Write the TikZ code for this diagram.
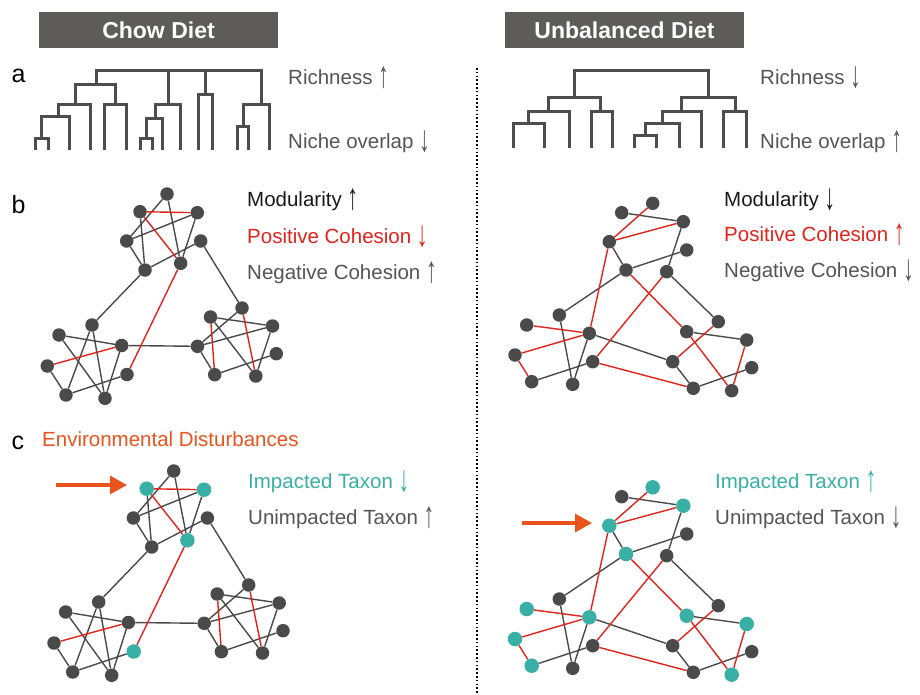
\documentclass[tikz,border=0pt]{standalone}
\usepackage{graphicx}
\usepackage{fontspec}
\setmainfont{Liberation Sans}
\usetikzlibrary{arrows.meta}
\definecolor{nodegray}{HTML}{4A4A4A}
\definecolor{treegray}{HTML}{4D4D4D}
\definecolor{txtgray}{HTML}{555555}
\definecolor{headgray}{HTML}{5E5B5B}
\definecolor{redline}{HTML}{E0241B}
\definecolor{tealc}{HTML}{38B0A6}
\definecolor{orangec}{HTML}{E9531D}
\newcommand\arrUp{\raisebox{-3pt}{\scalebox{1.05}[1.8]{↑}}}
\newcommand\arrDn{\raisebox{-3pt}{\scalebox{1.05}[1.8]{↓}}}
\tikzset{
  dot/.style={circle,fill=nodegray,draw=none,inner sep=0pt,minimum size=13.5pt},
  tl/.style={circle,fill=tealc,draw=none,inner sep=0pt,minimum size=14.5pt},
  bk/.style={draw=nodegray,line width=1.4pt},
  rd/.style={draw=redline,line width=1.4pt},
  tree/.style={draw=treegray,line width=3pt,line cap=butt,line join=miter},
  lbl/.style={anchor=base west,inner sep=0pt,font=\fontsize{20.5}{24}\selectfont},
  letter/.style={anchor=base west,inner sep=0pt,font=\fontsize{25}{30}\selectfont},
  header/.style={fill=headgray,text=white,minimum width=239pt,minimum height=36pt,inner sep=0pt,font=\fontsize{23}{27}\bfseries\selectfont},
  bigarrow/.style={draw=orangec,line width=3.2pt,-{Triangle[length=17pt,width=18pt]}},
  k1/.style={},k2/.style={},k3/.style={},k4/.style={},k5/.style={},k6/.style={},k7/.style={},
  k8/.style={},k9/.style={},k10/.style={},k11/.style={},k12/.style={},k13/.style={},k14/.style={},
  k15/.style={},k16/.style={},k17/.style={},k18/.style={},k19/.style={},k20/.style={},k21/.style={}
}
\newcommand\chownet{%
  \node[dot,k1] (n1) at (167,194) {};
  \node[dot,k2] (n2) at (140,211.7) {};
  \node[dot,k3] (n3) at (197.3,212.7) {};
  \node[dot,k4] (n4) at (126.7,241) {};
  \node[dot,k5] (n5) at (200.7,241) {};
  \node[dot,k6] (n6) at (145,270) {};
  \node[dot,k7] (n7) at (180.7,263.3) {};
  \node[dot,k8] (n8) at (92,325) {};
  \node[dot,k9] (n9) at (59,335) {};
  \node[dot,k10] (n10) at (121.7,345.5) {};
  \node[dot,k11] (n11) at (47.3,366) {};
  \node[dot,k12] (n12) at (127,374.5) {};
  \node[dot,k13] (n13) at (66,395) {};
  \node[dot,k14] (n14) at (105,398.3) {};
  \node[dot,k15] (n15) at (242,308) {};
  \node[dot,k16] (n16) at (210.5,317) {};
  \node[dot,k17] (n17) at (272.5,326) {};
  \node[dot,k18] (n18) at (197.5,346.3) {};
  \node[dot,k19] (n19) at (276.3,353.7) {};
  \node[dot,k20] (n20) at (214.7,374.7) {};
  \node[dot,k21] (n21) at (255.8,376) {};
  \foreach \a/\b in {1/4,1/7,4/3,2/6,4/6,6/5,3/7,6/8,5/15,10/18,9/10,9/14,8/13,8/14,11/13,13/12,10/14,16/17,15/18,16/21,18/17,18/20,20/19,21/17}
    \draw[bk] (n\a) -- (n\b);
  \foreach \a/\b in {2/3,2/7,7/12,11/10,16/20,15/21}
    \draw[rd] (n\a) -- (n\b);
}
\newcommand\unbnet{%
  \node[dot,k1] (m1) at (652.7,203.3) {};
  \node[dot,k2] (m2) at (621.7,212.7) {};
  \node[dot,k3] (m3) at (683.3,221.7) {};
  \node[dot,k4] (m4) at (609.3,241.7) {};
  \node[dot,k5] (m5) at (686.7,250) {};
  \node[dot,k6] (m6) at (626,270) {};
  \node[dot,k7] (m7) at (666.7,271.7) {};
  \node[dot,k8] (m8) at (559.3,315) {};
  \node[dot,k9] (m9) at (526.7,325) {};
  \node[dot,k10] (m10) at (589.3,333.3) {};
  \node[dot,k11] (m11) at (718.3,321.7) {};
  \node[dot,k12] (m12) at (686.7,331.7) {};
  \node[dot,k13] (m13) at (746.7,340) {};
  \node[dot,k14] (m14) at (515,355) {};
  \node[dot,k15] (m15) at (592.7,361.7) {};
  \node[dot,k16] (m16) at (672.7,361.7) {};
  \node[dot,k17] (m17) at (751.7,367.7) {};
  \node[dot,k18] (m18) at (531.7,381.7) {};
  \node[dot,k19] (m19) at (572.7,384.3) {};
  \node[dot,k20] (m20) at (693.3,388.3) {};
  \node[dot,k21] (m21) at (731.7,390.7) {};
  \foreach \a/\b in {2/3,3/7,4/6,6/5,6/8,7/11,18/15,8/19,10/19,10/16,12/13,16/20,20/17}
    \draw[bk] (m\a) -- (m\b);
  \foreach \a/\b in {1/4,4/3,4/10,6/12,7/15,9/10,14/10,14/18,15/20,16/11,12/21,13/21}
    \draw[rd] (m\a) -- (m\b);
}
\begin{document}
\begin{tikzpicture}[x=1pt,y=-1pt]
\useasboundingbox (0,0) rectangle (920,695);
% headers
\node[header] (h1) at (158.5,30) {Chow Diet};
\node[header] (h2) at (624.5,30) {Unbalanced Diet};
% divider
\coordinate (dv1) at (477,68);
\coordinate (dv2) at (477,695);
\draw[black,line width=1.6pt,dash pattern=on 1.6pt off 2.2pt] (dv1) -- (dv2);
% letters
\node[letter] (la) at (11.5,83) {a};
\node[letter] (lb) at (11.5,213) {b};
\node[letter] (lc) at (11.5,449) {c};
% left tree
\draw[tree] (35,150) |- (48.3,138.3) -- (48.3,150);
\draw[tree] (41.7,138.3) |- (69.3,116.7) -- (69.3,150);
\draw[tree] (58.3,116.7) |- (90,105) -- (90,150);
\draw[tree] (104.3,150) |- (126,105) -- (126,150);
\draw[tree] (75,105) |- (115,85) -- (115,105);
\draw[tree] (140,150) |- (152.7,138.3) -- (152.7,150);
\draw[tree] (146.7,138.3) |- (162.3,118.3) -- (162.3,150);
\draw[tree] (155,118.3) |- (180,105) -- (180,150);
\draw[tree] (198.3,150) |- (212.7,95) -- (212.7,150);
\draw[tree] (237.7,150) |- (248.3,126.7) -- (248.3,150);
\draw[tree] (243.3,126.7) |- (269.3,105) -- (269.3,150);
\draw[tree] (96.7,85) |- (261,71) -- (261,105);
\draw[tree] (168.3,105) -- (168.3,71);
\draw[tree] (205.7,95) -- (205.7,71);
% right tree
\draw[tree] (513.3,148.3) |- (544.3,124) -- (544.3,148.3);
\draw[tree] (528.3,124) |- (569.3,111.7) -- (569.3,148.3);
\draw[tree] (591.7,148.3) |- (612.7,111.7) -- (612.7,148.3);
\draw[tree] (548.3,111.7) |- (600.7,97.7) -- (600.7,111.7);
\draw[tree] (634,148.3) |- (656.7,135.7) -- (656.7,148.3);
\draw[tree] (645.3,135.7) |- (679.3,124) -- (679.3,148.3);
\draw[tree] (662.7,124) |- (701,111.7) -- (701,148.3);
\draw[tree] (723.3,148.3) |- (746.7,111.7) -- (746.7,148.3);
\draw[tree] (681.7,111.7) |- (735,97.7) -- (735,111.7);
\draw[tree] (574.3,97.7) |- (708.3,71) -- (708.3,97.7);
% tree labels
\node[lbl,text=txtgray] (t1) at (288,85) {Richness \arrUp};
\node[lbl,text=txtgray] (t2) at (288,149) {Niche overlap \arrDn};
\node[lbl,text=txtgray] (t3) at (760,85) {Richness \arrDn};
\node[lbl,text=txtgray] (t4) at (760,149) {Niche overlap \arrUp};
% b labels
\node[lbl,text=black!90] (t5) at (247,206) {Modularity \arrUp};
\node[lbl,text=redline] (t6) at (247,243) {Positive Cohesion \arrDn};
\node[lbl,text=txtgray] (t7) at (247,279) {Negative Cohesion \arrUp};
\node[lbl,text=black!90] (t8) at (724,206) {Modularity \arrDn};
\node[lbl,text=redline] (t9) at (724,241) {Positive Cohesion \arrUp};
\node[lbl,text=txtgray] (t10) at (724,277) {Negative Cohesion \arrDn};
% c labels
\node[lbl,text=orangec] (t11) at (42,446) {Environmental Disturbances};
\node[lbl,text=tealc] (t12) at (248,488) {Impacted Taxon \arrDn};
\node[lbl,text=txtgray] (t13) at (248,524) {Unimpacted Taxon \arrUp};
\node[lbl,text=tealc] (t14) at (715,488) {Impacted Taxon \arrUp};
\node[lbl,text=txtgray] (t15) at (715,524) {Unimpacted Taxon \arrDn};
% networks b
\begin{scope}[name prefix=bl-]
\chownet
\end{scope}
\begin{scope}[name prefix=br-]
\unbnet
\end{scope}
% networks c
\begin{scope}[name prefix=cl-,shift={(6.7,277)},k2/.style={tl},k3/.style={tl},k7/.style={tl},k12/.style={tl}]
\chownet
\end{scope}
\begin{scope}[name prefix=cr-,shift={(0,284)},k1/.style={tl},k3/.style={tl},k4/.style={tl},k6/.style={tl},k9/.style={tl},k10/.style={tl},k12/.style={tl},k13/.style={tl},k14/.style={tl},k18/.style={tl},k21/.style={tl}]
\unbnet
\end{scope}
% disturbance arrows
\coordinate (a1s) at (56,485);
\coordinate (a1e) at (127,485);
\draw[bigarrow] (a1s) -- (a1e);
\coordinate (a2s) at (522,523);
\coordinate (a2e) at (592,523);
\draw[bigarrow] (a2s) -- (a2e);
\end{tikzpicture}
\end{document}
